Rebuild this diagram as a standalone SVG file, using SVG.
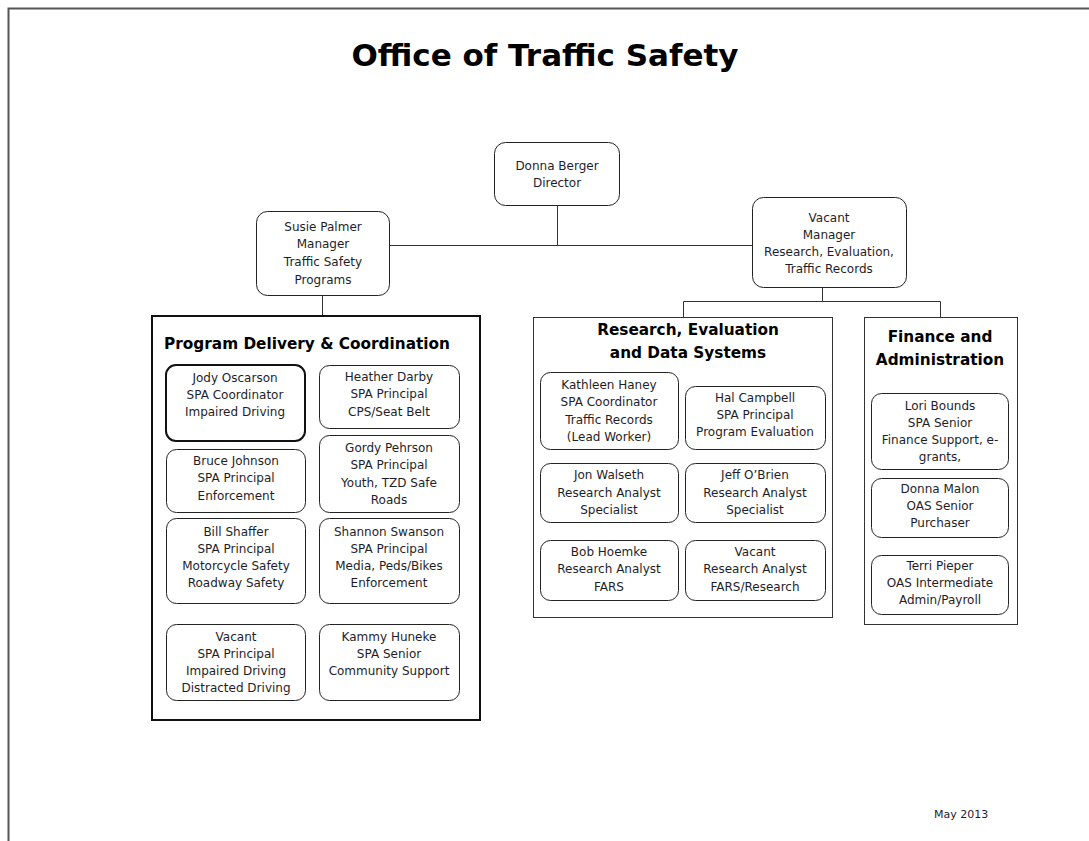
<svg xmlns="http://www.w3.org/2000/svg" width="1089" height="841" viewBox="0 0 1089 841">
<style>
.page{fill:none;stroke:#555;stroke-width:2}
.box{fill:#fff;stroke:#222;stroke-width:1}
.boxb{fill:#fff;stroke:#111;stroke-width:2}
.panel{fill:#fff;stroke:#333;stroke-width:1}
.panelb{fill:#fff;stroke:#111;stroke-width:2}
.conn{fill:none;stroke:#333;stroke-width:1}
text{font-family:"DejaVu Sans",Verdana,sans-serif;fill:#1e1e2a;text-anchor:middle}
.t{font-size:12px}
.h{font-size:15.3px;font-weight:bold;fill:#000}
.title{font-size:31px;font-weight:bold;fill:#000}
.d{font-size:11px;text-anchor:start}
</style>
<rect width="1089" height="841" fill="#fff"/>
<path class="page" d="M8.5,841 V8.5 H1089"/>
<text class="title" x="545" y="66">Office of Traffic Safety</text>

<g id="connectors">
<path class="conn" d="M557.5,205 V245.5 M389,245.5 H752 M322.5,295 V316 M822.5,287 V301.5 M683.5,301.5 H940.5 M683.5,301.5 V317 M940.5,301.5 V317"/>
</g>

<g id="director">
<rect class="box" x="494.5" y="142.5" width="125" height="63" rx="11"/>
<text class="t" x="557" y="170">Donna Berger</text>
<text class="t" x="557" y="187">Director</text>
</g>
<g id="manager-tsp">
<rect class="box" x="256.5" y="211.5" width="133" height="84" rx="11"/>
<text class="t" x="323" y="231">Susie Palmer</text>
<text class="t" x="323" y="248">Manager</text>
<text class="t" x="323" y="266">Traffic Safety</text>
<text class="t" x="323" y="284">Programs</text>
</g>
<g id="manager-red">
<rect class="box" x="752.5" y="197.5" width="154" height="90" rx="11"/>
<text class="t" x="829" y="222">Vacant</text>
<text class="t" x="829" y="239">Manager</text>
<text class="t" x="829" y="256">Research, Evaluation,</text>
<text class="t" x="829" y="273">Traffic Records</text>
</g>

<g id="panel-pdc">
<rect class="panelb" x="152" y="316" width="328" height="404"/>
<text class="h" x="307" y="349">Program Delivery &amp; Coordination</text>
</g>
<g id="jody">
<rect class="boxb" x="166" y="365" width="139" height="76" rx="10"/>
<text class="t" x="235" y="382">Jody Oscarson</text>
<text class="t" x="235" y="399">SPA Coordinator</text>
<text class="t" x="235" y="416">Impaired Driving</text>
</g>
<g id="heather">
<rect class="box" x="319.5" y="365.5" width="140" height="63" rx="10"/>
<text class="t" x="389" y="381">Heather Darby</text>
<text class="t" x="389" y="398">SPA Principal</text>
<text class="t" x="389" y="416">CPS/Seat Belt</text>
</g>
<g id="bruce">
<rect class="box" x="166.5" y="449.5" width="139" height="63" rx="10"/>
<text class="t" x="236" y="465">Bruce Johnson</text>
<text class="t" x="236" y="482">SPA Principal</text>
<text class="t" x="236" y="500">Enforcement</text>
</g>
<g id="gordy">
<rect class="box" x="319.5" y="435.5" width="140" height="77" rx="10"/>
<text class="t" x="389" y="452">Gordy Pehrson</text>
<text class="t" x="389" y="469">SPA Principal</text>
<text class="t" x="389" y="487">Youth, TZD Safe</text>
<text class="t" x="389" y="504">Roads</text>
</g>
<g id="bill">
<rect class="box" x="166.5" y="518.5" width="139" height="85" rx="10"/>
<text class="t" x="236" y="536">Bill Shaffer</text>
<text class="t" x="236" y="553">SPA Principal</text>
<text class="t" x="236" y="570">Motorcycle Safety</text>
<text class="t" x="236" y="587">Roadway Safety</text>
</g>
<g id="shannon">
<rect class="box" x="319.5" y="518.5" width="140" height="85" rx="10"/>
<text class="t" x="389" y="536">Shannon Swanson</text>
<text class="t" x="389" y="553">SPA Principal</text>
<text class="t" x="389" y="570">Media, Peds/Bikes</text>
<text class="t" x="389" y="587">Enforcement</text>
</g>
<g id="vacant-pdc">
<rect class="box" x="166.5" y="624.5" width="139" height="76" rx="10"/>
<text class="t" x="236" y="641">Vacant</text>
<text class="t" x="236" y="658">SPA Principal</text>
<text class="t" x="236" y="675">Impaired Driving</text>
<text class="t" x="236" y="692">Distracted Driving</text>
</g>
<g id="kammy">
<rect class="box" x="319.5" y="624.5" width="140" height="76" rx="10"/>
<text class="t" x="389" y="641">Kammy Huneke</text>
<text class="t" x="389" y="658">SPA Senior</text>
<text class="t" x="389" y="675">Community Support</text>
</g>

<g id="panel-reds">
<rect class="panel" x="533.5" y="317.5" width="299" height="300"/>
<text class="h" x="688" y="335">Research, Evaluation</text>
<text class="h" x="688" y="358">and Data Systems</text>
</g>
<g id="kathleen">
<rect class="box" x="540.5" y="372.5" width="138" height="77" rx="10"/>
<text class="t" x="609" y="389">Kathleen Haney</text>
<text class="t" x="609" y="406">SPA Coordinator</text>
<text class="t" x="609" y="424">Traffic Records</text>
<text class="t" x="609" y="441">(Lead Worker)</text>
</g>
<g id="hal">
<rect class="box" x="685.5" y="386.5" width="140" height="63" rx="10"/>
<text class="t" x="755" y="402">Hal Campbell</text>
<text class="t" x="755" y="419">SPA Principal</text>
<text class="t" x="755" y="436">Program Evaluation</text>
</g>
<g id="jon">
<rect class="box" x="540.5" y="463.5" width="138" height="59" rx="10"/>
<text class="t" x="609" y="479">Jon Walseth</text>
<text class="t" x="609" y="497">Research Analyst</text>
<text class="t" x="609" y="514">Specialist</text>
</g>
<g id="jeff">
<rect class="box" x="685.5" y="463.5" width="140" height="59" rx="10"/>
<text class="t" x="755" y="479">Jeff O’Brien</text>
<text class="t" x="755" y="497">Research Analyst</text>
<text class="t" x="755" y="514">Specialist</text>
</g>
<g id="bob">
<rect class="box" x="540.5" y="540.5" width="138" height="60" rx="10"/>
<text class="t" x="609" y="556">Bob Hoemke</text>
<text class="t" x="609" y="573">Research Analyst</text>
<text class="t" x="609" y="591">FARS</text>
</g>
<g id="vacant-reds">
<rect class="box" x="685.5" y="540.5" width="140" height="60" rx="10"/>
<text class="t" x="755" y="556">Vacant</text>
<text class="t" x="755" y="573">Research Analyst</text>
<text class="t" x="755" y="591">FARS/Research</text>
</g>

<g id="panel-fa">
<rect class="panel" x="864.5" y="317.5" width="153" height="307"/>
<text class="h" x="940" y="342">Finance and</text>
<text class="h" x="940" y="365">Administration</text>
</g>
<g id="lori">
<rect class="box" x="871.5" y="393.5" width="137" height="76" rx="10"/>
<text class="t" x="940" y="410">Lori Bounds</text>
<text class="t" x="940" y="427">SPA Senior</text>
<text class="t" x="940" y="444">Finance Support, e-</text>
<text class="t" x="940" y="461">grants,</text>
</g>
<g id="donna-malon">
<rect class="box" x="871.5" y="478.5" width="137" height="59" rx="10"/>
<text class="t" x="940" y="493">Donna Malon</text>
<text class="t" x="940" y="510">OAS Senior</text>
<text class="t" x="940" y="527">Purchaser</text>
</g>
<g id="terri">
<rect class="box" x="871.5" y="555.5" width="137" height="59" rx="10"/>
<text class="t" x="940" y="570">Terri Pieper</text>
<text class="t" x="940" y="587">OAS Intermediate</text>
<text class="t" x="940" y="604">Admin/Payroll</text>
</g>

<text class="d" x="934" y="818">May 2013</text>
</svg>
